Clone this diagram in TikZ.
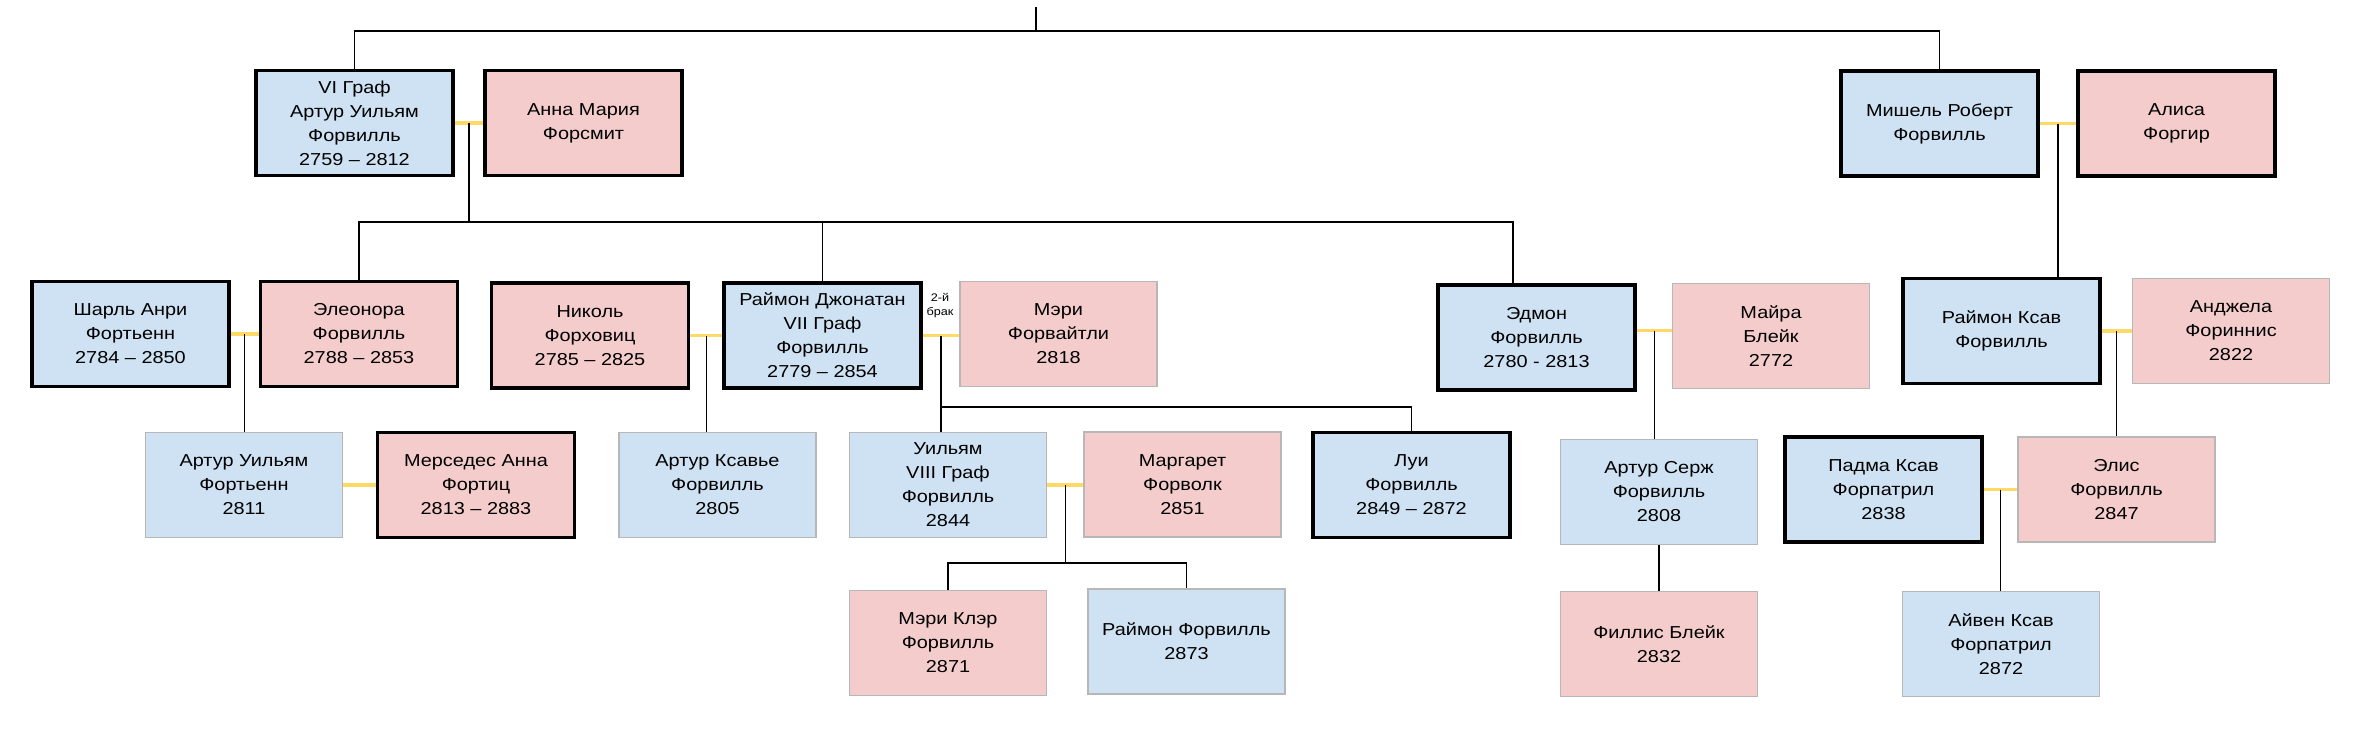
\documentclass[tikz,border=0pt]{standalone}
\usepackage{fontspec}
\setmainfont{Liberation Sans}[FakeStretch=1.15]
\usetikzlibrary{calc}
\definecolor{maleblue}{HTML}{CFE2F3}
\definecolor{femalepink}{HTML}{F4CCCC}
\definecolor{bordergray}{HTML}{B7B7B7}
\definecolor{marryellow}{HTML}{FFD966}

\begin{document}
\begin{tikzpicture}[x=1pt,y=-1pt,
	person/.style={minimum width=197pt, minimum height=105pt, inner sep=0pt, align=center, font=\fontsize{17.3}{24}\selectfont},
	man/.style={person, fill=maleblue},
	woman/.style={person, fill=femalepink},
	kin/.style={draw=black, line width=3.3pt},
	inlaw/.style={draw=bordergray, line width=1.6pt},
	link/.style={line width=1.3pt},
	marriage/.style={line width=3.5pt, draw=marryellow}]
	\fill[white] (0,0) rectangle (2360,742);
	
	% first generation
	\node[man,kin] (A1) at (354.5,123) {VI Граф\\Артур Уильям\\Форвилль\\2759 – 2812};
	\node[woman,kin] (A2) at (583.5,123) {Анна Мария\\Форсмит};
	\node[man,kin] (B1) at (1939.5,123.5) {Мишель Роберт\\Форвилль};
	\node[woman,kin] (B2) at (2176.5,123.5) {Алиса\\Форгир};
	
	% second generation
	\node[man,kin] (C1) at (130.5,334) {Шарль Анри\\Фортьенн\\2784 – 2850};
	\node[woman,kin] (C2) at (359,334) {Элеонора\\Форвилль\\2788 – 2853};
	\node[woman,kin] (D1) at (590,335.5) {Николь\\Форховиц\\2785 – 2825};
	\node[man,kin] (D2) at (822.5,335.5) {Раймон Джонатан\\VII Граф\\Форвилль\\2779 – 2854};
	\node[woman,inlaw] (D3) at (1058.5,334) {Мэри\\Форвайтли\\2818};
	\node[man,kin] (E1) at (1536.5,337.5) {Эдмон\\Форвилль\\2780 - 2813};
	\node[woman,inlaw] (E2) at (1771,336) {Майра\\Блейк\\2772};
	\node[man,kin] (F1) at (2001.5,331) {Раймон Ксав\\Форвилль};
	\node[woman,inlaw] (F2) at (2231,331) {Анджела\\Фориннис\\2822};
	\node[inner sep=0pt, align=center, font=\fontsize{11}{14}\selectfont] (second) at (940,306) {2-й\\брак};
	
	% third generation
	\node[man,inlaw] (G1) at (244,485) {Артур Уильям\\Фортьенн\\2811};
	\node[woman,kin] (G2) at (476,485) {Мерседес Анна\\Фортиц\\2813 – 2883};
	\node[man,inlaw] (H1) at (717.5,485) {Артур Ксавье\\Форвилль\\2805};
	\node[man,inlaw] (I1) at (948,485) {Уильям\\VIII Граф\\Форвилль\\2844};
	\node[woman,inlaw] (I2) at (1182.5,484.5) {Маргарет\\Форволк\\2851};
	\node[man,kin] (J1) at (1411.5,485) {Луи\\Форвилль\\2849 – 2872};
	\node[man,inlaw] (K1) at (1659,492) {Артур Серж\\Форвилль\\2808};
	\node[man,kin] (L1) at (1883.5,489.5) {Падма Ксав\\Форпатрил\\2838};
	\node[woman,inlaw] (L2) at (2116.5,489.5) {Элис\\Форвилль\\2847};
	
	% fourth generation
	\node[woman,inlaw] (M1) at (948,643) {Мэри Клэр\\Форвилль\\2871};
	\node[man,inlaw] (M2) at (1186.5,641.5) {Раймон Форвилль\\2873};
	\node[woman,inlaw] (N1) at (1659,644) {Филлис Блейк\\2832};
	\node[man,inlaw] (O1) at (2001,644) {Айвен Ксав\\Форпатрил\\2872};
	
	% marriages
	\foreach \a/\b/\m in {A1/A2/mA, B1/B2/mB, C1/C2/mC, D1/D2/mD, D2/D3/mR, F1/F2/mF, G1/G2/mG, I1/I2/mI, L1/L2/mL}
	{
		\draw[marriage] (\a.east) -- (\a.east -| \b.west) coordinate[midway] (\m);
	}
	\draw[marriage] ([yshift=7pt]E1.east) -- ([yshift=7pt]E1.east -| E2.west) coordinate[midway] (mE);
	
	% descent
	\coordinate (root) at (1036,7);
	\coordinate (top) at (1036,31);
	\draw[link] (root) -- (top);
	\draw[link] (A1.north) |- (top) -| (B1.north);
	\draw[link] (mA) -- ++(0,99) coordinate (barA);
	\draw[link] (C2.north) |- (barA) -| ([xshift=-23.5pt]E1.north);
	\draw[link] (D2.north) -- (D2.north |- barA);
	\draw[link] (mB) -- (mB |- F1.north);
	\draw[link] (mC) -- (mC |- G1.north);
	\draw[link] (mD) -- (mD |- H1.north);
	\draw[link] (mR) -- (mR |- I1.north);
	\coordinate (barR) at ([yshift=24pt]J1.north);
	\draw[link] (mR |- barR) -| (J1.north);
	\draw[link] (mI) -- ++(0,78) coordinate (barI);
	\draw[link] (M1.north) |- (barI) -| (M2.north);
	\draw[link] (mE) -- (mE |- K1.north);
	\draw[link] (K1.south) -- (N1.north);
	\draw[link] (mF) -- (mF |- L2.north);
	\draw[link] (mL) -- (mL |- O1.north);
\end{tikzpicture}
\end{document}
